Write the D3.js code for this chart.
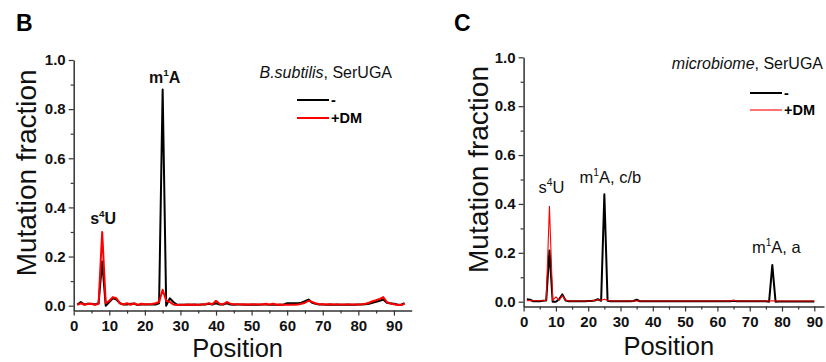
<!DOCTYPE html>
<html>
<head>
<meta charset="utf-8">
<script src="https://cdn.jsdelivr.net/npm/d3@7"></script>
<style>
  body { margin: 0; background: #fff; }
  svg { display: block; font-family: "Liberation Sans", Arial, sans-serif; }
</style>
</head>
<body>
<svg id="chart" width="826" height="362"></svg>
<script>
// panel B, B.subtilis SerUGA, mutation fraction at positions 1..93
const bMinus = [
  0.005, 0.015, 0.005, 0.008, 0.008, 0.005, 0.010, 0.180, 0.000, 0.015,
  0.030, 0.025, 0.010, 0.005, 0.005, 0.008, 0.008, 0.003, 0.005, 0.005,
  0.005, 0.005, 0.005, 0.010, 0.880, 0.000, 0.030, 0.015, 0.005, 0.004,
  0.004, 0.005, 0.004, 0.005, 0.004, 0.005, 0.005, 0.008, 0.005, 0.010,
  0.005, 0.005, 0.010, 0.005, 0.004, 0.005, 0.005, 0.004, 0.004, 0.005,
  0.004, 0.004, 0.005, 0.005, 0.004, 0.005, 0.004, 0.004, 0.005, 0.010,
  0.010, 0.010, 0.010, 0.012, 0.018, 0.025, 0.012, 0.008, 0.005, 0.005,
  0.004, 0.005, 0.004, 0.005, 0.004, 0.004, 0.005, 0.004, 0.004, 0.005,
  0.005, 0.006, 0.008, 0.012, 0.016, 0.020, 0.025, 0.012, 0.010, 0.008,
  0.005, 0.004, 0.010
];
const bPlusDM = [
  0.003, 0.010, 0.004, 0.008, 0.007, 0.004, 0.008, 0.300, 0.010, 0.020,
  0.035, 0.030, 0.010, 0.005, 0.010, 0.004, 0.010, 0.003, 0.008, 0.006,
  0.006, 0.007, 0.010, 0.015, 0.065, 0.020, 0.015, 0.005, 0.003, 0.004,
  0.004, 0.004, 0.005, 0.004, 0.004, 0.005, 0.006, 0.010, 0.006, 0.020,
  0.008, 0.005, 0.015, 0.008, 0.006, 0.006, 0.005, 0.006, 0.005, 0.005,
  0.006, 0.005, 0.005, 0.008, 0.004, 0.008, 0.004, 0.005, 0.004, 0.004,
  0.004, 0.004, 0.005, 0.008, 0.012, 0.020, 0.015, 0.010, 0.006, 0.006,
  0.005, 0.006, 0.005, 0.005, 0.005, 0.005, 0.005, 0.005, 0.005, 0.005,
  0.006, 0.008, 0.012, 0.018, 0.022, 0.028, 0.035, 0.015, 0.008, 0.006,
  0.003, 0.003, 0.008
];

// panel C, microbiome SerUGA, positions 1..90
const cMinus = [
  0.010, 0.008, 0.002, 0.002, 0.002, 0.004, 0.005, 0.210, 0.000, 0.000,
  0.010, 0.030, 0.005, 0.002, 0.002, 0.002, 0.002, 0.002, 0.002, 0.003,
  0.003, 0.005, 0.010, 0.004, 0.440, 0.004, 0.002, 0.002, 0.002, 0.002,
  0.002, 0.002, 0.002, 0.003, 0.008, 0.002, 0.002, 0.002, 0.002, 0.002,
  0.002, 0.002, 0.002, 0.002, 0.002, 0.002, 0.002, 0.002, 0.002, 0.002,
  0.002, 0.002, 0.002, 0.002, 0.002, 0.002, 0.002, 0.002, 0.002, 0.002,
  0.002, 0.002, 0.002, 0.002, 0.004, 0.002, 0.002, 0.002, 0.002, 0.002,
  0.002, 0.002, 0.002, 0.002, 0.002, 0.000, 0.150, 0.000, 0.001, 0.001,
  0.001, 0.001, 0.001, 0.001, 0.001, 0.001, 0.001, 0.001, 0.001, 0.001
];
const cPlusDM = [
  0.004, 0.005, 0.004, 0.004, 0.004, 0.004, 0.006, 0.390, 0.005, 0.020,
  0.006, 0.025, 0.006, 0.003, 0.003, 0.003, 0.003, 0.003, 0.003, 0.003,
  0.003, 0.006, 0.008, 0.006, 0.010, 0.006, 0.003, 0.003, 0.003, 0.003,
  0.003, 0.003, 0.003, 0.003, 0.004, 0.003, 0.003, 0.003, 0.003, 0.003,
  0.003, 0.003, 0.003, 0.003, 0.003, 0.003, 0.003, 0.003, 0.003, 0.003,
  0.003, 0.003, 0.003, 0.003, 0.003, 0.003, 0.003, 0.003, 0.003, 0.003,
  0.003, 0.003, 0.003, 0.003, 0.006, 0.003, 0.003, 0.003, 0.003, 0.003,
  0.003, 0.003, 0.003, 0.003, 0.003, 0.003, 0.004, 0.003, 0.003, 0.003,
  0.003, 0.003, 0.003, 0.003, 0.003, 0.003, 0.003, 0.003, 0.003, 0.003
];

const yTicks = [0, 0.2, 0.4, 0.6, 0.8, 1.0];
const yMinorTicks = [0.1, 0.3, 0.5, 0.7, 0.9];
const xTicks = [0, 10, 20, 30, 40, 50, 60, 70, 80, 90];
const xMinorTicks = [5, 15, 25, 35, 45, 55, 65, 75, 85];
const legendLabels = ['-', '+DM'];

const svg = d3.select('#chart');
const axisColor = '#333';

function drawPanel(p) {
    const x = d3.scaleLinear().domain([0, p.xMax]).range(p.xRange);
    const y = d3.scaleLinear().domain([-0.02, 1.0]).range(p.yRange);
    const g = svg.append('g');

    // axes
    const xAxis = g.append('g')
        .attr('transform', `translate(0,${y(-0.02)})`)
        .call(d3.axisBottom(x).tickValues(xTicks).tickSize(5).tickSizeOuter(0).tickPadding(3));
    g.append('g')
        .attr('transform', `translate(0,${y(-0.02)})`)
        .call(d3.axisBottom(x).tickValues(xMinorTicks).tickSize(3).tickFormat(''))
        .select('.domain').remove();
    g.append('g')
        .attr('transform', `translate(${x(0)},0)`)
        .call(d3.axisLeft(y).tickValues(yTicks).tickSize(5).tickSizeOuter(0).tickPadding(3)
            .tickFormat(d3.format('.1f')));
    g.append('g')
        .attr('transform', `translate(${x(0)},0)`)
        .call(d3.axisLeft(y).tickValues(yMinorTicks).tickSize(3).tickFormat(''))
        .select('.domain').remove();

    g.selectAll('.domain').attr('stroke', axisColor).attr('stroke-width', 1.5);
    g.selectAll('.tick line').attr('stroke', axisColor).attr('stroke-width', 1.2);
    g.selectAll('.tick text')
        .attr('font-family', '"Liberation Sans", Arial, sans-serif')
        .attr('font-size', 15).attr('font-weight', 'bold').attr('fill', '#111');
    xAxis.selectAll('.tick text').attr('dy', '0.82em');

    // series
    const line = d3.line()
        .x((d, i) => x(i + 1))
        .y(d => y(d));
    g.append('path').datum(p.minus)
        .attr('fill', 'none').attr('stroke', '#000')
        .attr('stroke-width', 2).attr('stroke-linejoin', 'round')
        .attr('d', line);
    g.append('path').datum(p.plusDM)
        .attr('fill', 'none').attr('stroke', '#f00')
        .attr('stroke-width', p.redWidth).attr('stroke-linejoin', 'round')
        .attr('d', line);

    // panel letter
    g.append('text').attr('x', p.letterX).attr('y', 31)
        .attr('font-size', 23).attr('font-weight', 'bold').text(p.letter);

    // axis titles
    g.append('text')
        .attr('transform', `translate(${p.yTitleX},${(y(0) + y(1)) / 2 - 10}) rotate(-90)`)
        .attr('text-anchor', 'middle').attr('font-size', 28).attr('fill', '#111')
        .text('Mutation fraction');
    g.append('text')
        .attr('x', (x(0) + x(p.xMax)) / 2 - 5).attr('y', p.xTitleY)
        .attr('text-anchor', 'middle').attr('font-size', 25.5).attr('fill', '#111')
        .text('Position');

    // title
    const t = g.append('text').attr('x', p.titleX).attr('y', p.titleY)
        .attr('text-anchor', 'end').attr('font-size', 16).attr('fill', '#111');
    t.append('tspan').attr('font-style', 'italic').text(p.organism);
    t.append('tspan').text(', SerUGA');

    // legend
    const colors = ['#000', '#f00'];
    const widths = [2, p.redWidth];
    legendLabels.forEach((lab, i) => {
        const ly = p.legendY + i * p.legendGap;
        g.append('line')
            .attr('x1', p.legendX).attr('x2', p.legendX + 32)
            .attr('y1', ly).attr('y2', ly)
            .attr('stroke', colors[i]).attr('stroke-width', widths[i]);
        g.append('text').attr('x', p.legendX + 34).attr('y', ly + 5)
            .attr('font-size', 14.5).attr('font-weight', 'bold').text(lab);
    });

    // peak labels
    p.peaks.forEach(pk => {
        const tx = g.append('text')
            .attr('x', x(pk.pos) + (pk.dx || 0)).attr('y', y(pk.value) - pk.lift)
            .attr('text-anchor', 'middle').attr('font-size', p.peakSize)
            .attr('font-weight', p.peakWeight).attr('fill', '#111');
        tx.append('tspan').text(pk.pre);
        tx.append('tspan').attr('font-size', p.peakSize * 0.62).attr('dy', -7).text(pk.sup);
        tx.append('tspan').attr('dy', 7).text(pk.post);
    });
}

drawPanel({
    letter: 'B', letterX: 16,
    xMax: 95, xRange: [73.7, 411.7], yRange: [310.6, 60],
    minus: bMinus, plusDM: bPlusDM, redWidth: 2,
    yTitleX: 36, xTitleY: 356.5,
    organism: 'B.subtilis', titleX: 392, titleY: 78,
    legendX: 297, legendY: 100, legendGap: 18,
    peakSize: 16, peakWeight: 'bold',
    peaks: [
        { pos: 8, value: 0.30, lift: 8, pre: 's', sup: '4', post: 'U', dx: 1 },
        { pos: 25, value: 0.88, lift: 6, pre: 'm', sup: '1', post: 'A', dx: 2 }
    ]
});

drawPanel({
    letter: 'C', letterX: 454,
    xMax: 93, xRange: [523.6, 824], yRange: [306.6, 57.3],
    minus: cMinus, plusDM: cPlusDM, redWidth: 1.1,
    yTitleX: 488, xTitleY: 355,
    organism: 'microbiome', titleX: 823, titleY: 69,
    legendX: 750, legendY: 93, legendGap: 17,
    peakSize: 16.5, peakWeight: 'normal',
    peaks: [
        { pos: 8, value: 0.39, lift: 13, pre: 's', sup: '4', post: 'U', dx: 2 },
        { pos: 25, value: 0.44, lift: 11, pre: 'm', sup: '1', post: 'A, c/b', dx: 6 },
        { pos: 77, value: 0.15, lift: 12, pre: 'm', sup: '1', post: 'A, a', dx: 4 }
    ]
});
</script>
</body>
</html>
